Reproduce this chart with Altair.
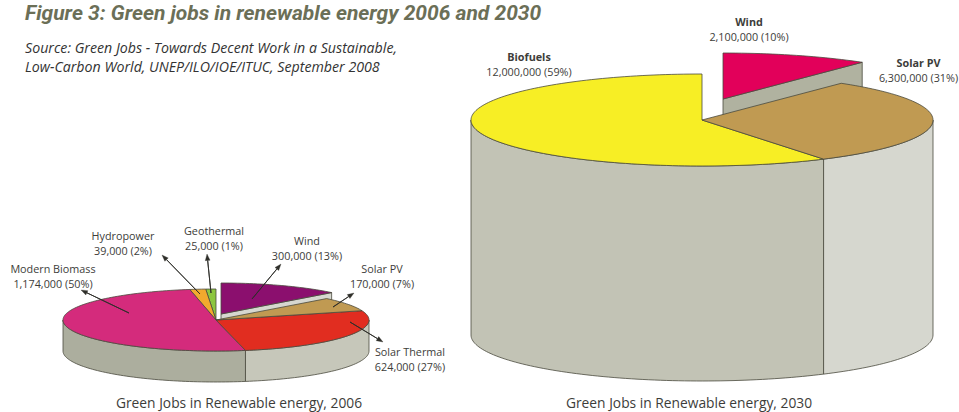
import math
import altair as alt
import pandas as pd

W, H = 959, 412
FONT = "Open Sans"
INK = "#3d3d3a"
EDGE = "#4a4a3e"

# 2006 slices, counter-clockwise from twelve o'clock
names_2006 = ["Geothermal", "Hydropower", "Modern Biomass", "Solar Thermal", "Solar PV", "Wind"]
jobs_2006 = [25000, 39000, 1174000, 624000, 170000, 300000]
share_2006 = [1, 2, 50, 27, 7, 13]
colors_2006 = ["#8cc63f", "#f2a92e", "#d42b7c", "#e12d20", "#c09a52", "#8b0f6e"]

# 2030 slices, same ordering
names_2030 = ["Biofuels", "Solar PV", "Wind"]
jobs_2030 = [12000000, 6300000, 2100000]
share_2030 = [59, 31, 10]
colors_2030 = ["#f7ee25", "#c09a52", "#e2005a"]

# Pie geometry: centre, radii, wall height, pulled-out offset of the exploded slice
pie_2006 = dict(cx=216, cy=320, rx=153, ry=31, depth=31, pull=(5, -6))
pie_2030 = dict(cx=702, cy=120, rx=231, ry=46, depth=215, pull=(21, -21))

# Wall shades: left of the seam, right of the seam, exploded slice
walls_2006 = ["#acae9e", "#c6c7ba", "#d6d7cf"]
walls_2030 = ["#c2c3b5", "#d6d7cf", "#b0b2a0"]


def point(p, t, off=(0, 0), drop=0):
    a = math.radians(t)
    return (p["cx"] + off[0] + p["rx"] * math.cos(a),
            p["cy"] + off[1] + drop - p["ry"] * math.sin(a))


def arc(p, t0, t1, off=(0, 0), drop=0):
    n = max(2, int(abs(t1 - t0) / 1.5))
    return [point(p, t0 + (t1 - t0) * i / n, off, drop) for i in range(n + 1)]


def polygon(pts, fill, stroke=EDGE, width=0.8):
    pts = list(pts) + [pts[0]]
    df = pd.DataFrame({"x": [q[0] for q in pts], "y": [q[1] for q in pts], "i": range(len(pts))})
    return alt.Chart(df).mark_line(
        fill=fill, stroke=stroke, strokeWidth=width, strokeJoin="round", interpolate="linear"
    ).encode(
        x=alt.X("x:Q", scale=alt.Scale(domain=[0, W], nice=False, zero=False), axis=None),
        y=alt.Y("y:Q", scale=alt.Scale(domain=[H, 0], nice=False, zero=False), axis=None),
        order="i:Q",
    )


def pie_layers(p, jobs, colors, walls):
    total = sum(jobs)
    spans, t = [], 90.0
    for v in jobs:
        spans.append((t, t + 360.0 * v / total))
        t = spans[-1][1]
    pull = p["pull"]
    out = []
    # Flat cut face of the exploded slice sits behind the body of the pie
    t0, t1 = spans[-1]
    apex = (p["cx"] + pull[0], p["cy"] + pull[1])
    rim = point(p, t0, pull)
    out.append(polygon([apex, rim, (rim[0], rim[1] + p["depth"]), (apex[0], apex[1] + p["depth"])], walls[2]))
    # Front wall, split where the slice crossing six o'clock ends
    seam = next(b for a, b in spans if a < 270 < b)
    for a, b, shade in ((180, seam, walls[0]), (seam, 360, walls[1])):
        out.append(polygon(arc(p, a, b) + arc(p, b, a, drop=p["depth"]), shade))
    # Top faces
    for i, ((a, b), c) in enumerate(zip(spans, colors)):
        off = pull if i == len(spans) - 1 else (0, 0)
        tip = (p["cx"] + off[0], p["cy"] + off[1])
        out.append(polygon([tip] + arc(p, a, b, off), c))
    return out


def leader(x0, y0, x1, y1):
    ang = math.atan2(y1 - y0, x1 - x0)
    ln, hw = 6.5, 2.4
    bx, by = x1 - ln * math.cos(ang), y1 - ln * math.sin(ang)
    nx, ny = -math.sin(ang), math.cos(ang)
    shaft = polygon([(x0, y0), (bx, by)], "#2f2f2a", stroke="#2f2f2a", width=0.9)
    head = polygon([(x1, y1), (bx + nx * hw, by + ny * hw), (bx - nx * hw, by - ny * hw)],
                   "#2f2f2a", stroke="#2f2f2a", width=0.3)
    return [shaft, head]


def text(rows, size, color=INK, weight="normal", style="normal", align="center", font=FONT):
    df = pd.DataFrame(rows, columns=["x", "y", "t"])
    return alt.Chart(df).mark_text(
        font=font, fontSize=size, color=color, fontWeight=weight, fontStyle=style,
        align=align, baseline="alphabetic",
    ).encode(
        x=alt.X("x:Q", scale=alt.Scale(domain=[0, W], nice=False, zero=False), axis=None),
        y=alt.Y("y:Q", scale=alt.Scale(domain=[H, 0], nice=False, zero=False), axis=None),
        text="t:N",
    )


def caption(names, jobs, share, name):
    i = names.index(name)
    return f"{jobs[i]:,} ({share[i]}%)"


layers = []
layers += pie_layers(pie_2006, jobs_2006, colors_2006, walls_2006)
layers += pie_layers(pie_2030, jobs_2030, colors_2030, walls_2030)

# Leader arrows of the 2006 pie
for seg in [(129, 313, 81, 290), (200, 294, 162, 255), (211, 293, 207, 254),
            (252, 299, 281, 264), (333, 307, 354, 293), (350, 322, 383, 342)]:
    layers += leader(*seg)

# Slice labels, 2006
spots_2006 = {"Modern Biomass": (53, 273), "Hydropower": (123, 240), "Geothermal": (214, 235),
              "Wind": (307, 245), "Solar PV": (382, 273), "Solar Thermal": (410, 356)}
rows = []
for nm, (x, y) in spots_2006.items():
    rows.append((x, y, nm))
    rows.append((x, y + 15, caption(names_2006, jobs_2006, share_2006, nm)))
layers.append(text(rows, 10.8))

# Slice labels, 2030
spots_2030 = {"Biofuels": (529, 61), "Wind": (749, 26), "Solar PV": (918.5, 67)}
heads, subs = [], []
for nm, (x, y) in spots_2030.items():
    heads.append((x, y, nm))
    subs.append((x, y + 15, caption(names_2030, jobs_2030, share_2030, nm)))
layers.append(text(heads, 10.8, weight="bold"))
layers.append(text(subs, 10.8))

# Titles and captions
layers.append(text([(25, 19.5, "Figure 3: Green jobs in renewable energy 2006 and 2030")],
                   21, color="#6b6f57", weight="bold", style="italic", align="left", font="Roboto"))
layers.append(text([(25, 53, "Source: Green Jobs - Towards Decent Work in a Sustainable,"),
                    (25, 72, "Low-Carbon World, UNEP/ILO/IOE/ITUC, September 2008")],
                   14.2, color="#333333", style="italic", align="left"))
layers.append(text([(239, 408, "Green Jobs in Renewable energy, 2006"),
                    (689, 408, "Green Jobs in Renewable energy, 2030")], 13.8))

chart = alt.layer(*layers).properties(
    width=W, height=H, padding=0, autosize=alt.AutoSizeParams(type="none"),
    background="white",
).configure_view(stroke=None)

chart.save("out.html", embed_options={"renderer": "svg", "actions": False})
